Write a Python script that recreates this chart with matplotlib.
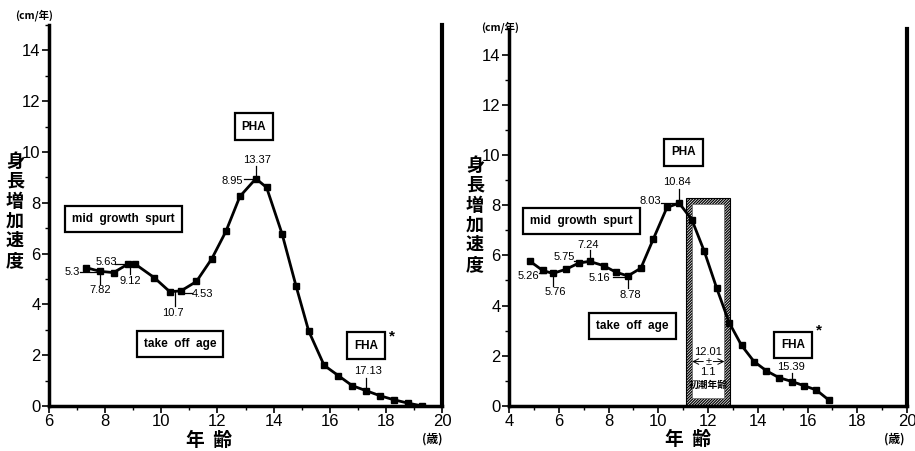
import matplotlib
matplotlib.use('Agg')
import matplotlib.pyplot as plt
from matplotlib.patches import Rectangle
from matplotlib.ticker import MultipleLocator

plt.rcParams['font.family'] = ['Liberation Sans Narrow', 'Liberation Sans', 'DejaVu Sans']
plt.rcParams['hatch.linewidth'] = 0.9

# ---------------- data ----------------
left_age = [7.3, 7.82, 8.3, 8.8, 9.05, 9.75, 10.3, 10.7, 11.25, 11.8, 12.3, 12.8, 13.37,
            13.75, 14.3, 14.8, 15.25, 15.8, 16.3, 16.8, 17.3, 17.8, 18.3, 18.8, 19.3]
left_vel = [5.45, 5.3, 5.25, 5.58, 5.6, 5.05, 4.5, 4.53, 4.9, 5.8, 6.87, 8.25, 8.95,
            8.6, 6.78, 4.72, 2.95, 1.6, 1.2, 0.8, 0.6, 0.4, 0.24, 0.11, 0.0]

right_age = [4.85, 5.35, 5.76, 6.3, 6.8, 7.24, 7.8, 8.3, 8.78, 9.3, 9.8, 10.35, 10.84,
             11.35, 11.85, 12.35, 12.85, 13.35, 13.85, 14.35, 14.85, 15.39, 15.85, 16.35, 16.85]
right_vel = [5.76, 5.4, 5.28, 5.45, 5.69, 5.76, 5.59, 5.33, 5.18, 5.49, 6.65, 7.91, 8.08,
             7.42, 6.16, 4.69, 3.32, 2.41, 1.77, 1.40, 1.13, 0.97, 0.81, 0.64, 0.24]

menarche_mean = 12.01
menarche_sd = 1.1

left_xlim = (6, 20)
right_xlim = (4, 20)

CJK = ['Noto Sans CJK JP', 'DejaVu Sans']
BOLD_SANS = ['Liberation Sans', 'DejaVu Sans']
NUM = ['Liberation Sans Narrow', 'Liberation Sans', 'DejaVu Sans']

fig = plt.figure(figsize=(9.15, 4.51), dpi=100)
axL = fig.add_axes([0.0536, 0.0998, 0.4295, 0.845])
axR = fig.add_axes([0.5563, 0.0998, 0.435, 0.835])


def style(ax, xlim):
    ax.set_xlim(*xlim)
    ax.set_ylim(0, 15)
    ax.spines['top'].set_visible(False)
    ax.spines['left'].set_linewidth(2.5)
    ax.spines['bottom'].set_linewidth(2.5)
    ax.spines['right'].set_linewidth(3)
    ax.xaxis.set_major_locator(MultipleLocator(2))
    ax.xaxis.set_minor_locator(MultipleLocator(1))
    ax.yaxis.set_major_locator(MultipleLocator(2))
    ax.yaxis.set_minor_locator(MultipleLocator(1))
    ax.tick_params(which='major', length=5, width=1.2, pad=1, labelsize=12)
    ax.tick_params(which='minor', length=3, width=1)
    ax.tick_params(axis='y', which='both', right=False)
    ax.set_yticks([0, 2, 4, 6, 8, 10, 12, 14])
    for lab in ax.get_xticklabels() + ax.get_yticklabels():
        lab.set_family(NUM)
        lab.set_stretch('condensed')


def box(ax, x, y, s):
    ax.text(x, y, s, ha='center', va='center', fontsize=8.5, fontweight='bold',
            family=BOLD_SANS, zorder=5,
            bbox=dict(boxstyle='square,pad=0.6', fc='white', ec='black', lw=1.6))


def lab(ax, x, y, s, line):
    ax.text(x, y, s, ha='center', va='center', fontsize=8, family=NUM,
            stretch='condensed', zorder=6)
    (x0, y0), (x1, y1) = line
    ax.plot([x0, x1], [y0, y1], color='black', lw=0.9, zorder=4)


for ax, xl in ((axL, left_xlim), (axR, right_xlim)):
    style(ax, xl)

# ---------- left panel ----------
axL.plot(left_age, left_vel, color='black', lw=2, marker='s', markersize=4.5, zorder=3)
box(axL, 8.66, 7.37, 'mid  growth  spurt')
box(axL, 10.66, 2.43, 'take  off  age')
box(axL, 13.3, 11.0, 'PHA')
box(axL, 17.3, 2.38, 'FHA')
axL.text(18.2, 2.75, '*', fontsize=11, fontweight='bold', ha='center', va='center')

lab(axL, 6.83, 5.26, '5.3', ((7.1, 5.28), (7.82, 5.28)))
lab(axL, 7.82, 4.58, '7.82', ((7.82, 5.3), (7.82, 4.8)))
lab(axL, 8.05, 5.65, '5.63', ((8.36, 5.59), (8.95, 5.59)))
lab(axL, 8.9, 4.93, '9.12', ((8.88, 5.58), (8.88, 5.18)))
lab(axL, 10.4, 3.65, '10.7', ((10.48, 4.5), (10.48, 3.93)))
lab(axL, 11.47, 4.41, '4.53', ((10.7, 4.45), (11.1, 4.45)))
lab(axL, 12.53, 8.87, '8.95', ((12.95, 8.95), (13.37, 8.95)))
lab(axL, 13.4, 9.7, '13.37', ((13.37, 8.95), (13.37, 9.43)))
lab(axL, 17.38, 1.39, '17.13', ((17.3, 0.6), (17.3, 1.1)))

# ---------- right panel ----------
outer_l = menarche_mean - 0.9
outer_r = menarche_mean + 0.88
axR.add_patch(Rectangle((outer_l, 0), outer_r - outer_l, 8.3, facecolor='white',
                        edgecolor='black', hatch='////////////', lw=0.8, zorder=1))
axR.add_patch(Rectangle((outer_l + 0.25, 0.3), (outer_r - outer_l) - 0.48, 7.75,
                        facecolor='white', edgecolor='#666666', lw=0.5, zorder=1.5))
axR.plot(right_age, right_vel, color='black', lw=2, marker='s', markersize=4.5, zorder=3)
axR.text(menarche_mean, 2.17, f'{menarche_mean:.2f}', ha='center', va='center',
         fontsize=8, family=NUM, zorder=6)
axR.text(menarche_mean, 1.77, '±', ha='center', va='center', fontsize=8, family=NUM, zorder=6)
axR.annotate('', xy=(outer_l + 0.25, 1.77), xytext=(menarche_mean - 0.2, 1.77),
             arrowprops=dict(arrowstyle='->', lw=0.7, color='black', shrinkA=0, shrinkB=0))
axR.annotate('', xy=(outer_r - 0.23, 1.77), xytext=(menarche_mean + 0.2, 1.77),
             arrowprops=dict(arrowstyle='->', lw=0.7, color='black', shrinkA=0, shrinkB=0))
axR.text(menarche_mean, 1.37, f'{menarche_sd:.1f}', ha='center', va='center',
         fontsize=8, family=NUM, zorder=6)
axR.text(menarche_mean, 0.84, '初潮年齢', ha='center', va='center', fontsize=7,
         fontweight='bold', family=CJK, zorder=6)

box(axR, 6.9, 7.37, 'mid  growth  spurt')
box(axR, 8.96, 3.18, 'take  off  age')
box(axR, 11.0, 10.1, 'PHA')
box(axR, 15.42, 2.42, 'FHA')
axR.text(16.45, 3.0, '*', fontsize=11, fontweight='bold', ha='center', va='center')

lab(axR, 4.79, 5.16, '5.26', ((5.2, 5.28), (5.5, 5.28)))
lab(axR, 5.87, 4.55, '5.76', ((5.76, 5.28), (5.76, 4.79)))
lab(axR, 6.21, 5.92, '5.75', ((6.6, 5.76), (7.24, 5.76)))
lab(axR, 7.18, 6.42, '7.24', ((7.24, 5.76), (7.24, 6.2)))
lab(axR, 7.65, 5.09, '5.16', ((8.2, 5.15), (8.78, 5.15)))
lab(axR, 8.86, 4.43, '8.78', ((8.78, 5.18), (8.78, 4.69)))
lab(axR, 9.69, 8.18, '8.03', ((10.1, 8.08), (10.84, 8.08)))
lab(axR, 10.77, 8.91, '10.84', ((10.84, 8.08), (10.84, 8.66)))
lab(axR, 15.34, 1.57, '15.39', ((15.39, 0.97), (15.39, 1.33)))

# ---------- axis texts ----------
ylab = '\n'.join('身長増加速度')
fig.text(15 / 915, 1 - 211 / 451, ylab, ha='center', va='center', fontsize=13,
         fontweight='bold', family=CJK, linespacing=1.05)
fig.text(475 / 915, 1 - 215 / 451, ylab, ha='center', va='center', fontsize=13,
         fontweight='bold', family=CJK, linespacing=1.05)
fig.text(34 / 915, 1 - 15 / 451, '(cm/年)', ha='center', va='center', fontsize=7.5,
         fontweight='bold', family=CJK)
fig.text(500 / 915, 1 - 27 / 451, '(cm/年)', ha='center', va='center', fontsize=7.5,
         fontweight='bold', family=CJK)
fig.text(209 / 915, 1 - 440 / 451, '年  齢', ha='center', va='center', fontsize=13.5,
         fontweight='bold', family=CJK)
fig.text(688 / 915, 1 - 439 / 451, '年  齢', ha='center', va='center', fontsize=13.5,
         fontweight='bold', family=CJK)
fig.text(432 / 915, 1 - 439 / 451, '(歳)', ha='center', va='center', fontsize=8.5,
         fontweight='bold', family=CJK)
fig.text(894 / 915, 1 - 439 / 451, '(歳)', ha='center', va='center', fontsize=8.5,
         fontweight='bold', family=CJK)

fig.savefig('out.png', dpi=100, facecolor='white')
